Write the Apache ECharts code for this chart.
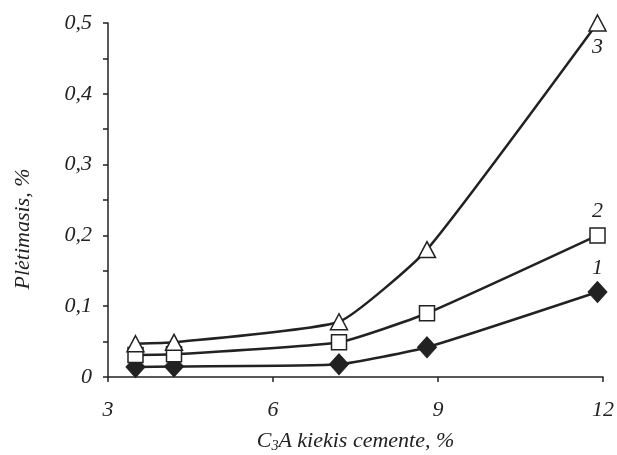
<!DOCTYPE html>
<html>
<head>
<meta charset="utf-8">
<script src="https://cdn.jsdelivr.net/npm/echarts@6/dist/echarts.min.js"></script>
<style>
  html, body { margin: 0; padding: 0; background: #fff; }
  #chart { width: 617px; height: 455px; }
</style>
</head>
<body>
<div id="chart"></div>
<script>
// C3A content in cement, %
const xValues = [3.5, 4.2, 7.2, 8.8, 11.9]
// expansion, % (1 - diamonds, 2 - squares, 3 - triangles)
const series1 = [0.014, 0.015, 0.018, 0.042, 0.12]
const series2 = [0.031, 0.032, 0.049, 0.09, 0.2]
const series3 = [0.047, 0.049, 0.078, 0.18, 0.5]
const seriesNames = ['1', '2', '3']

const ink = '#222'
const font = 'Liberation Serif'

function points(ys, labelPos, labelOffset) {
  return xValues.map(function (x, i) {
    const item = { value: [x, ys[i]] }
    if (i === xValues.length - 1) {
      item.label = {
        show: true,
        position: labelPos,
        offset: labelOffset,
        formatter: '{a}',
        fontFamily: font,
        fontStyle: 'italic',
        fontSize: 22,
        color: ink
      }
    }
    return item
  })
}

const chart = echarts.init(document.getElementById('chart'))
const option = {
  animation: false,
  backgroundColor: '#fff',
  grid: { left: 108, right: 14, top: 23, bottom: 78, outerBoundsMode: 'none' },
  xAxis: {
    type: 'value',
    min: 3,
    max: 12,
    interval: 3,
    name: 'C{sub|3}A kiekis cemente, %',
    nameLocation: 'middle',
    nameGap: 52,
    nameTextStyle: {
      fontFamily: font,
      fontStyle: 'italic',
      fontSize: 22,
      color: ink,
      rich: {
        sub: { fontFamily: font, fontStyle: 'italic', fontSize: 14, color: ink, verticalAlign: 'bottom', padding: [10, 0, 0, 0] }
      }
    },
    axisLine: { lineStyle: { color: ink, width: 1.5 } },
    axisTick: { show: true, inside: false, length: 5, lineStyle: { color: ink, width: 1.5 } },
    axisLabel: { margin: 22, fontFamily: font, fontStyle: 'italic', fontSize: 22, color: ink },
    splitLine: { show: false }
  },
  yAxis: {
    type: 'value',
    min: 0,
    max: 0.5,
    interval: 0.1,
    name: 'Plėtimasis, %',
    nameLocation: 'middle',
    nameGap: 74,
    nameTextStyle: {
      fontFamily: font,
      fontStyle: 'italic',
      fontSize: 22,
      color: ink,
      padding: [0, 58, 0, 0]
    },
    axisLine: { show: true, lineStyle: { color: ink, width: 1.5 } },
    axisTick: { show: true, inside: false, length: 5, lineStyle: { color: ink, width: 1.5 } },
    minorTick: { show: true, splitNumber: 2, length: 5, lineStyle: { color: ink, width: 1.5 } },
    axisLabel: {
      margin: 16,
      fontFamily: font,
      fontStyle: 'italic',
      fontSize: 22,
      color: ink,
      formatter: function (v) { return v === 0 ? '0' : v.toFixed(1).replace('.', ',') }
    },
    splitLine: { show: false }
  },
  series: [
    {
      name: seriesNames[0],
      type: 'line',
      smooth: 0.15,
      data: points(series1, 'top', [0, 3]),
      symbol: 'diamond',
      symbolSize: [19, 21],
      itemStyle: { color: ink, borderColor: ink, borderWidth: 1 },
      lineStyle: { color: ink, width: 2.5 },
      z: 3
    },
    {
      name: seriesNames[1],
      type: 'line',
      smooth: 0.15,
      data: points(series2, 'top', [0, 0]),
      symbol: 'rect',
      symbolSize: 15,
      itemStyle: { color: '#fff', borderColor: ink, borderWidth: 1.5 },
      lineStyle: { color: ink, width: 2.5 },
      z: 4
    },
    {
      name: seriesNames[2],
      type: 'line',
      smooth: 0.15,
      data: points(series3, 'bottom', [0, -1]),
      symbol: 'triangle',
      symbolSize: [17, 16],
      itemStyle: { color: '#fff', borderColor: ink, borderWidth: 1.5 },
      lineStyle: { color: ink, width: 2.5 },
      z: 5
    }
  ]
}
chart.setOption(option)
</script>
</body>
</html>
